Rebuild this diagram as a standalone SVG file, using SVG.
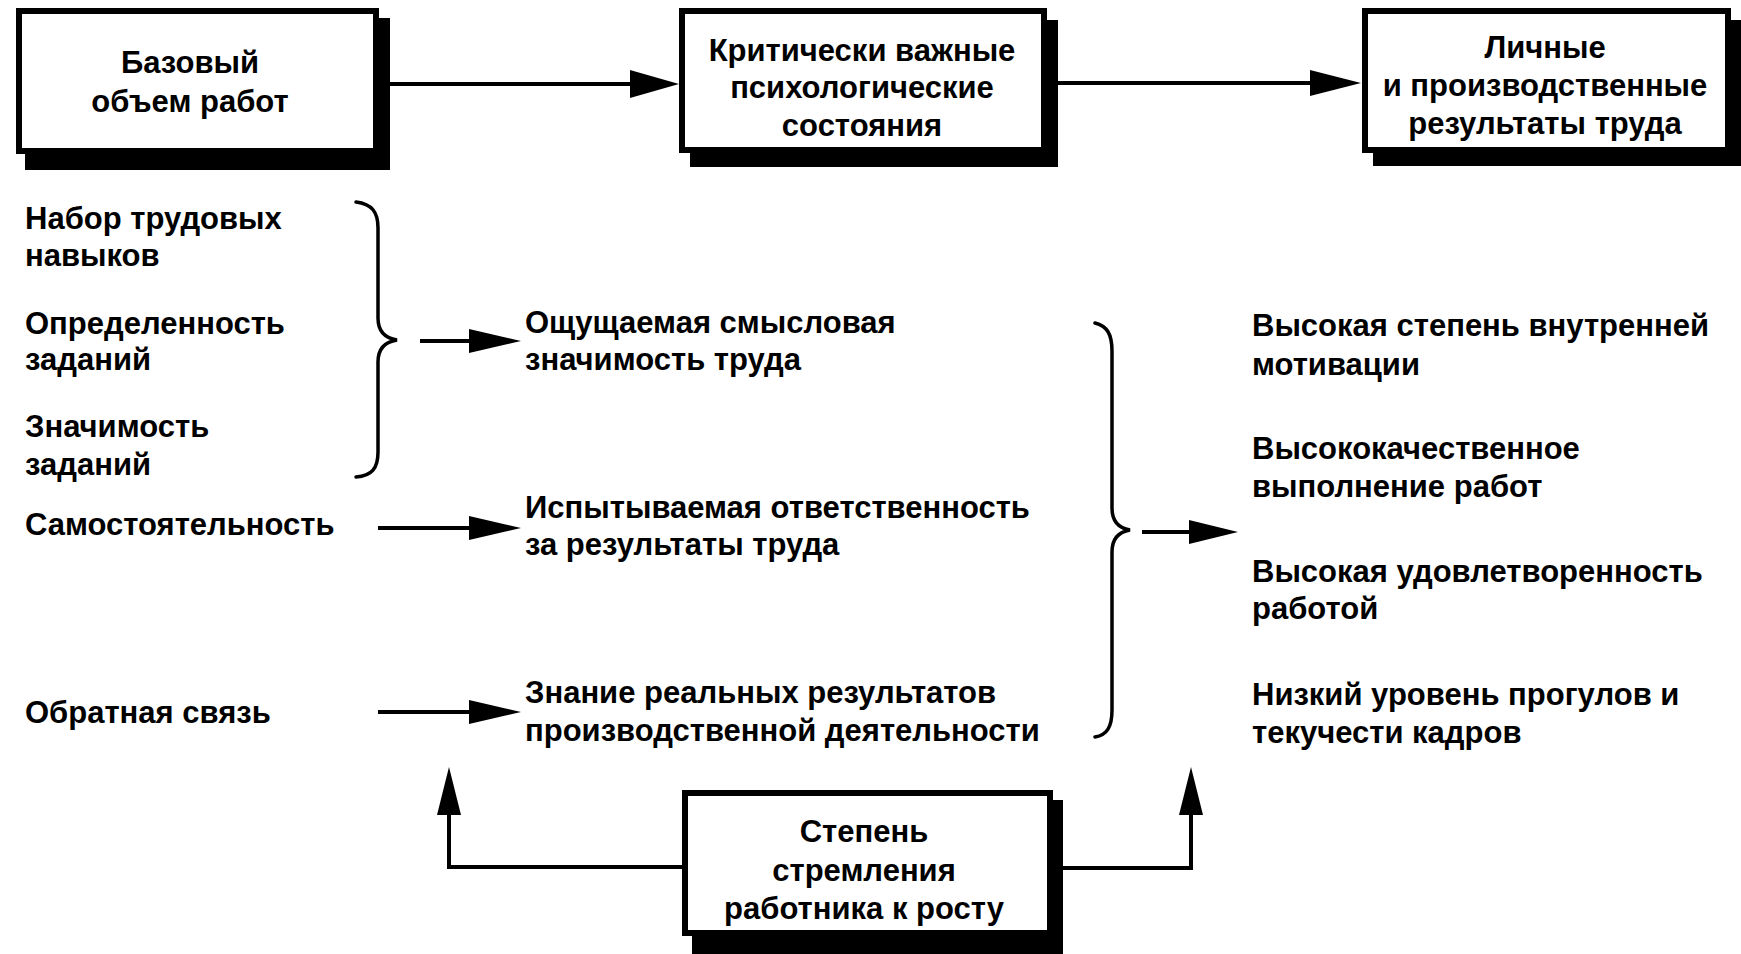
<svg xmlns="http://www.w3.org/2000/svg" width="1741" height="954" viewBox="0 0 1741 954">
<style>
.t{font-family:"Liberation Sans",Arial,sans-serif;font-weight:bold;font-size:31px;fill:#000}
.c{text-anchor:middle}
.box{fill:#fff;stroke:#000;stroke-width:6}
.sh{fill:#000}
.ln{fill:none;stroke:#000;stroke-width:4}
.br{fill:none;stroke:#000;stroke-width:3.5;stroke-linecap:round}
.ah{fill:#000}
</style>
<rect width="1741" height="954" fill="#fff"/>
<g id="connectors">
<line class="ln" x1="383" y1="84" x2="634" y2="84"/>
<polygon class="ah" points="630,70 679,84 630,98"/>
<line class="ln" x1="1058" y1="83" x2="1314" y2="83"/>
<polygon class="ah" points="1310,70 1361,83 1310,96"/>
<path class="br" d="M356,202 C372,204 378,212 378,228 L378,318 C378,330 384,338 397,340 C384,342 378,350 378,362 L378,452 C378,468 372,476 356,477"/>
<line class="ln" x1="420" y1="341" x2="472" y2="341"/>
<polygon class="ah" points="469,329 521,341 469,353"/>
<line class="ln" x1="378" y1="528" x2="472" y2="528"/>
<polygon class="ah" points="469,516 521,528 469,540"/>
<line class="ln" x1="378" y1="712" x2="472" y2="712"/>
<polygon class="ah" points="469,700 521,712 469,724"/>
<path class="br" d="M1095,323 C1107,326 1112,334 1112,351 L1112,508 C1112,520 1118,528 1130,530 C1118,532 1112,540 1112,552 L1112,710 C1112,727 1107,735 1095,737"/>
<line class="ln" x1="1142" y1="532" x2="1192" y2="532"/>
<polygon class="ah" points="1189,520 1238,532 1189,544"/>
<polyline class="ln" points="683,867 449,867 449,812"/>
<polygon class="ah" points="437,815 449,767 461,815"/>
<polyline class="ln" points="1060,868 1191,868 1191,812"/>
<polygon class="ah" points="1179,815 1191,767 1203,815"/>
</g>
<g id="node-base">
<polygon class="sh" points="376,18 390,18 390,170 25,170 25,151 376,151"/>
<rect class="box" x="19" y="11" width="357" height="140"/>
<text class="t c" x="190" y="73">Базовый</text>
<text class="t c" x="190" y="112">объем работ</text>
</g>
<g id="node-critical">
<polygon class="sh" points="1044,20 1058,20 1058,167 690,167 690,150 1044,150"/>
<rect class="box" x="682" y="11" width="362" height="139"/>
<text class="t c" x="862" y="61">Критически важные</text>
<text class="t c" x="862" y="98">психологические</text>
<text class="t c" x="862" y="136">состояния</text>
</g>
<g id="node-results">
<polygon class="sh" points="1728,20 1741,20 1741,166 1373,166 1373,150 1728,150"/>
<rect class="box" x="1365" y="11" width="363" height="139"/>
<text class="t c" x="1545" y="58">Личные</text>
<text class="t c" x="1545" y="96">и производственные</text>
<text class="t c" x="1545" y="134">результаты труда</text>
</g>
<g id="node-growth">
<polygon class="sh" points="1050,800 1063,800 1063,954 692,954 692,933 1050,933"/>
<rect class="box" x="685" y="793" width="365" height="140"/>
<text class="t c" x="864" y="842">Степень</text>
<text class="t c" x="864" y="881">стремления</text>
<text class="t c" x="864" y="919">работника к росту</text>
</g>
<g id="node-skills">
<text class="t" x="25" y="229">Набор трудовых</text>
<text class="t" x="25" y="266">навыков</text>
</g>
<g id="node-identity">
<text class="t" x="25" y="334">Определенность</text>
<text class="t" x="25" y="370">заданий</text>
</g>
<g id="node-significance">
<text class="t" x="25" y="437">Значимость</text>
<text class="t" x="25" y="475">заданий</text>
</g>
<g id="node-autonomy">
<text class="t" x="25" y="535">Самостоятельность</text>
</g>
<g id="node-feedback">
<text class="t" x="25" y="723">Обратная связь</text>
</g>
<g id="node-meaning">
<text class="t" x="525" y="333">Ощущаемая смысловая</text>
<text class="t" x="525" y="370">значимость труда</text>
</g>
<g id="node-responsibility">
<text class="t" x="525" y="518">Испытываемая ответственность</text>
<text class="t" x="525" y="555">за результаты труда</text>
</g>
<g id="node-knowledge">
<text class="t" x="525" y="703">Знание реальных результатов</text>
<text class="t" x="525" y="741">производственной деятельности</text>
</g>
<g id="node-motivation">
<text class="t" x="1252" y="336">Высокая степень внутренней</text>
<text class="t" x="1252" y="375">мотивации</text>
</g>
<g id="node-quality">
<text class="t" x="1252" y="459">Высококачественное</text>
<text class="t" x="1252" y="497">выполнение работ</text>
</g>
<g id="node-satisfaction">
<text class="t" x="1252" y="582">Высокая удовлетворенность</text>
<text class="t" x="1252" y="619">работой</text>
</g>
<g id="node-turnover">
<text class="t" x="1252" y="705">Низкий уровень прогулов и</text>
<text class="t" x="1252" y="743">текучести кадров</text>
</g>
</svg>
